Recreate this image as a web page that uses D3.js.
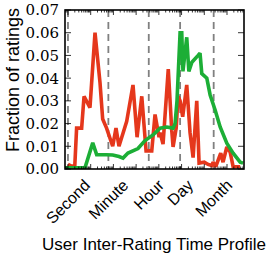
<!DOCTYPE html>
<html>
<head>
<meta charset="utf-8">
<script src="https://cdn.jsdelivr.net/npm/d3@7"></script>
<style>
body { margin: 0; background: #fff; }
.yTickText { font-family: 'DejaVu Serif', serif; font-size: 15px; }
.xTickText { font-family: 'Liberation Sans', Arial, sans-serif; font-size: 16px; }
.axisTitle { font-family: 'Liberation Sans', Arial, sans-serif; font-size: 17px; }
</style>
</head>
<body>
<svg id="chart" width="269" height="257"></svg>
<script>
var timeLabels = ['Second', 'Minute', 'Hour', 'Day', 'Month'];
var timeMarks = [1, 60, 3600, 86400, 2592000];
var yTicks = [0, 0.01, 0.02, 0.03, 0.04, 0.05, 0.06, 0.07];

// seconds between ratings, fraction of ratings
var redTimes = [1, 1.5, 2.0, 2.4, 4, 5.1, 9.3, 15.5, 25.7, 33.7, 50, 93, 130, 176, 385, 728, 1100, 1770, 2740, 4870, 6800, 10200, 11300, 15300, 26000, 37000, 42300, 58000, 70000, 86000, 112000, 169000, 236000, 322000, 466000, 590000, 1.0e6, 1.48e6, 2.14e6, 2.45e6, 3.2e6, 5.3e6, 6.7e6, 9.8e6, 1.37e7, 1.86e7, 3.8e7];
var redValues = [0.002, 0.0012, 0.0015, 0.018, 0.018, 0.032, 0.027, 0.060, 0.038, 0.022, 0.018, 0.010, 0.018, 0.010, 0.021, 0.037, 0.014, 0.032, 0.008, 0.008, 0.024, 0.014, 0.016, 0.011, 0.044, 0.017, 0.0097, 0.018, 0.032, 0.030, 0.023, 0.037, 0.016, 0.005, 0.030, 0.0026, 0.003, 0.002, 0.0015, 0.003, 0.001, 0.007, 0.003, 0.0097, 0.0075, 0.001, 0.001];

var greenTimes = [0.74, 5.6, 12.3, 18.3, 50, 93, 176, 265, 438, 1210, 2460, 5540, 11300, 22200, 42300, 51800, 63000, 86000, 102000, 115000, 169000, 209000, 285000, 535000, 650000, 776000, 1.29e6, 1.81e6, 3.0e6, 5.0e6, 9.8e6, 1.86e7, 3.8e7, 5.1e7];
var greenValues = [0.0005, 0.0005, 0.0115, 0.0063, 0.0063, 0.0062, 0.0055, 0.0048, 0.007, 0.009, 0.0125, 0.015, 0.018, 0.0185, 0.018, 0.020, 0.030, 0.060, 0.060, 0.043, 0.058, 0.043, 0.047, 0.050, 0.051, 0.042, 0.040, 0.0326, 0.026, 0.0185, 0.0114, 0.007, 0.003, 0.0026];

var box = {left: 65, right: 244, top: 10, bottom: 169};
var svg = d3.select('#chart');

var x = d3.scaleLog().domain([0.74, 5.6e7]).range([box.left, box.right]);
var y = d3.scaleLinear().domain([0, 0.07]).range([box.bottom, box.top]);

svg.append('defs').append('clipPath')
	.attr('id', 'plotClip')
	.append('rect')
	.attr('x', box.left)
	.attr('y', box.top)
	.attr('width', box.right - box.left)
	.attr('height', box.bottom - box.top);

// dashed lines at each time unit
svg.append('g')
	.attr('id', 'unitLines')
	.selectAll('line')
	.data(timeMarks)
	.enter()
	.append('line')
	.attr('x1', function(d) { return x(d); })
	.attr('x2', function(d) { return x(d); })
	.attr('y1', box.top)
	.attr('y2', box.bottom)
	.attr('stroke', '#808080')
	.attr('stroke-width', 1.8)
	.attr('stroke-dasharray', '7,5');

var line = d3.line()
	.x(function(d) { return x(d[0]); })
	.y(function(d) { return y(d[1]); });

addSeries = function(times, values, color){
	svg.append('path')
		.datum(d3.zip(times, values))
		.attr('clip-path', 'url(#plotClip)')
		.attr('fill', 'none')
		.attr('stroke', color)
		.attr('stroke-width', 3.6)
		.attr('stroke-linejoin', 'miter')
		.attr('stroke-miterlimit', 2)
		.attr('d', line);
};
addSeries(redTimes, redValues, '#e5371c');
addSeries(greenTimes, greenValues, '#1cae36');

// inward ticks on all four sides
var xMajor = x.ticks().filter(function(d) { return Math.abs(Math.log10(d) - Math.round(Math.log10(d))) < 1e-9; });
var xAll = x.ticks();
var ticksG = svg.append('g').attr('id', 'ticksG').attr('stroke', '#000').attr('stroke-width', 0.8);
xAll.forEach(function(d){
	var len = xMajor.indexOf(d) >= 0 ? 5 : 2.5;
	ticksG.append('line').attr('x1', x(d)).attr('x2', x(d)).attr('y1', box.bottom).attr('y2', box.bottom - len);
	ticksG.append('line').attr('x1', x(d)).attr('x2', x(d)).attr('y1', box.top).attr('y2', box.top + len);
});
yTicks.forEach(function(d){
	ticksG.append('line').attr('x1', box.left).attr('x2', box.left + 6).attr('y1', y(d)).attr('y2', y(d));
	ticksG.append('line').attr('x1', box.right).attr('x2', box.right - 6).attr('y1', y(d)).attr('y2', y(d));
});

svg.append('rect')
	.attr('x', box.left)
	.attr('y', box.top)
	.attr('width', box.right - box.left)
	.attr('height', box.bottom - box.top)
	.attr('fill', 'none')
	.attr('stroke', '#000')
	.attr('stroke-width', 1.6);

svg.append('g')
	.attr('id', 'yLabels')
	.selectAll('text')
	.data(yTicks)
	.enter()
	.append('text')
	.attr('class', 'yTickText')
	.attr('x', box.left - 6)
	.attr('y', function(d) { return y(d); })
	.attr('dy', '0.36em')
	.attr('text-anchor', 'end')
	.text(function(d) { return d.toFixed(2); });

// rotated unit labels, centred under their tick like matplotlib does
var xLab = svg.append('g').attr('id', 'xLabels');
timeMarks.forEach(function(d, i){
	var t = xLab.append('text')
		.attr('class', 'xTickText')
		.attr('text-anchor', 'middle')
		.attr('dy', '0.35em')
		.text(timeLabels[i]);
	var w = t.node().getComputedTextLength();
	var cy = 176 + (w + 18) * 0.7071 / 2;
	t.attr('transform', 'translate(' + x(d) + ',' + cy + ') rotate(-45)');
});

svg.append('text')
	.attr('class', 'axisTitle')
	.attr('x', 154)
	.attr('y', 250)
	.attr('text-anchor', 'middle')
	.text('User Inter-Rating Time Profile');

svg.append('text')
	.attr('class', 'axisTitle')
	.attr('transform', 'translate(19,80) rotate(-90)')
	.attr('text-anchor', 'middle')
	.style('font-size', '18px')
	.text('Fraction of ratings');
</script>
</body>
</html>
